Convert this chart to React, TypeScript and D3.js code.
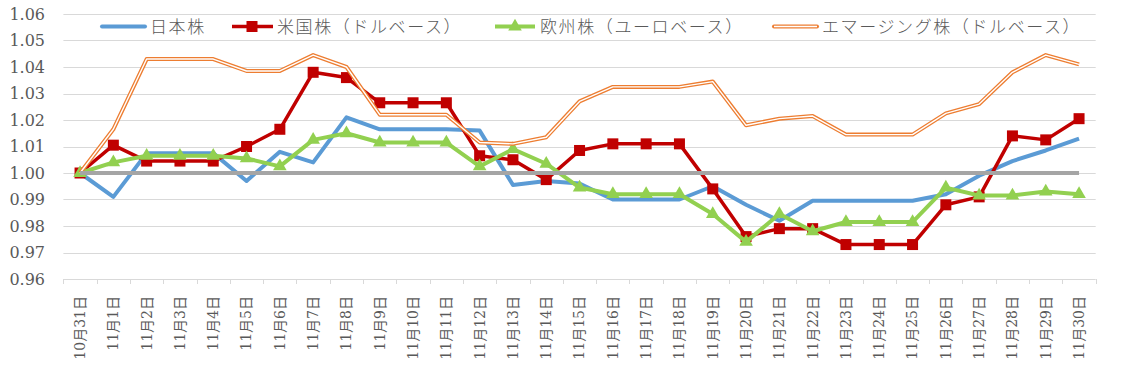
import React from "react";
import * as d3 from "d3";

const categories = [
  "10月31日", "11月1日", "11月2日", "11月3日", "11月4日", "11月5日", "11月6日", "11月7日",
  "11月8日", "11月9日", "11月10日", "11月11日", "11月12日", "11月13日", "11月14日", "11月15日",
  "11月16日", "11月17日", "11月18日", "11月19日", "11月20日", "11月21日", "11月22日", "11月23日",
  "11月24日", "11月25日", "11月26日", "11月27日", "11月28日", "11月29日", "11月30日",
];

const japan = [
  1.0, 0.991, 1.0075, 1.0075, 1.0075, 0.997, 1.008, 1.004, 1.021, 1.0165, 1.0165, 1.0165, 1.016,
  0.9955, 0.997, 0.996, 0.99, 0.99, 0.99, 0.995, 0.988, 0.982, 0.9895, 0.9895, 0.9895, 0.9895,
  0.992, 0.999, 1.0045, 1.0085, 1.013,
];

const us = [
  1.0, 1.0105, 1.0045, 1.0045, 1.0045, 1.01, 1.0165, 1.038, 1.036, 1.0265, 1.0265, 1.0265, 1.0065,
  1.005, 0.9975, 1.0085, 1.011, 1.011, 1.011, 0.994, 0.976, 0.979, 0.979, 0.973, 0.973, 0.973,
  0.988, 0.991, 1.014, 1.0125, 1.0205,
];

const europe = [
  1.0, 1.004, 1.0065, 1.0065, 1.0065, 1.0055, 1.0025, 1.0125, 1.015, 1.0115, 1.0115, 1.0115, 1.0025,
  1.009, 1.0035, 0.9945, 0.992, 0.992, 0.992, 0.9845, 0.974, 0.9845, 0.978, 0.9815, 0.9815, 0.9815,
  0.9945, 0.9915, 0.9915, 0.993, 0.992,
];

const emerging = [
  1.0, 1.0165, 1.043, 1.043, 1.043, 1.0385, 1.0385, 1.0445, 1.04, 1.022, 1.022, 1.022, 1.0115,
  1.011, 1.0135, 1.027, 1.0325, 1.0325, 1.0325, 1.0345, 1.018, 1.0205, 1.0215, 1.0145, 1.0145,
  1.0145, 1.0225, 1.026, 1.038, 1.0445, 1.041,
];

const baseline = categories.map(() => 1.0);

const yTicks = [0.96, 0.97, 0.98, 0.99, 1.0, 1.01, 1.02, 1.03, 1.04, 1.05, 1.06];

const legendLabels = ["日本株", "米国株（ドルベース）", "欧州株（ユーロベース）", "エマージング株（ドルベース）"];

const W = 1122;
const H = 375;
const LEFT = 63.4;
const RIGHT = 1095.7;
const TOP = 14;
const BOTTOM = 279;

const COLORS = {
  japan: "#5b9bd5",
  us: "#c00000",
  europe: "#92d050",
  emerging: "#ed7d31",
  base: "#a5a5a5",
  grid: "#d9d9d9",
  text: "#595959",
};

export default function App() {
  const x = d3.scalePoint<string>().domain(categories).range([LEFT, RIGHT]).padding(0.5);
  const band = d3.scaleBand<string>().domain(categories).range([LEFT, RIGHT]);
  const y = d3.scaleLinear().domain([0.96, 1.06]).range([BOTTOM, TOP]);

  const line = d3
    .line<number>()
    .x((_, i) => x(categories[i]) as number)
    .y((d) => y(d));

  const tri = d3.symbol().type(d3.symbolTriangle).size(80)() as string;
  const sq = 11;

  const serif = "'DejaVu Serif', 'Noto Sans CJK JP', serif";
  const cjk = "'Noto Sans CJK JP', sans-serif";

  const legendY = 26.5;
  const legendText = (xx: number, s: string) => (
    <text
      x={xx}
      y={legendY}
      dy="0.36em"
      fontFamily={cjk}
      fontSize={17}
      letterSpacing={1.6}
      fontWeight={300}
      fill={COLORS.text}
    >
      {s}
    </text>
  );

  return (
    <svg
      width={W}
      height={H}
      style={{ position: "absolute", left: 0, top: 0, background: "#fff" }}
    >
      {/* gridlines */}
      {yTicks.map((t) => (
        <line
          key={t}
          x1={LEFT}
          x2={RIGHT}
          y1={Math.round(y(t)) + 0.5}
          y2={Math.round(y(t)) + 0.5}
          stroke={COLORS.grid}
          strokeWidth={1}
        />
      ))}
      {/* y labels */}
      {yTicks.map((t) => (
        <text
          key={"yl" + t}
          x={45}
          y={y(t)}
          dy="0.36em"
          textAnchor="end"
          fontFamily={serif}
          fontSize={16}
          fill={COLORS.text}
        >
          {t.toFixed(2)}
        </text>
      ))}
      {/* x ticks */}
      {[...categories.map((c) => band(c) as number), RIGHT].map((xx, i) => (
        <line
          key={"xt" + i}
          x1={Math.round(xx) + 0.5}
          x2={Math.round(xx) + 0.5}
          y1={BOTTOM}
          y2={BOTTOM + 5}
          stroke={COLORS.grid}
        />
      ))}
      {/* x labels */}
      {categories.map((c) => (
        <text
          key={"xl" + c}
          transform={`translate(${x(c)},${BOTTOM + 17}) rotate(-90)`}
          textAnchor="end"
          dy="0.35em"
          fontFamily={serif}
          fontSize={14}
          fill={COLORS.text}
        >
          {c}
        </text>
      ))}

      {/* series */}
      <path d={line(japan) as string} fill="none" stroke={COLORS.japan} strokeWidth={4} strokeLinejoin="round" />

      <path d={line(us) as string} fill="none" stroke={COLORS.us} strokeWidth={3.5} strokeLinejoin="round" />
      {us.map((v, i) => (
        <rect
          key={"us" + i}
          x={(x(categories[i]) as number) - sq / 2}
          y={y(v) - sq / 2}
          width={sq}
          height={sq}
          fill={COLORS.us}
        />
      ))}

      <path d={line(europe) as string} fill="none" stroke={COLORS.europe} strokeWidth={4} strokeLinejoin="round" />
      {europe.map((v, i) => (
        <path
          key={"eu" + i}
          d={tri}
          transform={`translate(${x(categories[i])},${y(v)})`}
          fill={COLORS.europe}
        />
      ))}

      <path d={line(emerging) as string} fill="none" stroke={COLORS.emerging} strokeWidth={4} strokeLinejoin="round" />
      <path d={line(emerging) as string} fill="none" stroke="#fff" strokeWidth={1.4} strokeLinejoin="round" />

      <path d={line(baseline) as string} fill="none" stroke={COLORS.base} strokeWidth={4} />

      {/* legend */}
      <g>
        <line x1={102} x2={145} y1={legendY} y2={legendY} stroke={COLORS.japan} strokeWidth={4} strokeLinecap="round" />
        {legendText(150, legendLabels[0])}

        <line x1={232} x2={273} y1={legendY} y2={legendY} stroke={COLORS.us} strokeWidth={3.5} />
        <rect x={252 - sq / 2} y={legendY - sq / 2} width={sq} height={sq} fill={COLORS.us} />
        {legendText(277, legendLabels[1])}

        <line x1={495} x2={535} y1={legendY} y2={legendY} stroke={COLORS.europe} strokeWidth={4} />
        <path d={tri} transform={`translate(515,${legendY})`} fill={COLORS.europe} />
        {legendText(540, legendLabels[2])}

        <line x1={774} x2={817} y1={legendY} y2={legendY} stroke={COLORS.emerging} strokeWidth={4} strokeLinecap="round" />
        <line x1={774} x2={817} y1={legendY} y2={legendY} stroke="#fff" strokeWidth={1.4} />
        {legendText(822, legendLabels[3])}
      </g>
    </svg>
  );
}
